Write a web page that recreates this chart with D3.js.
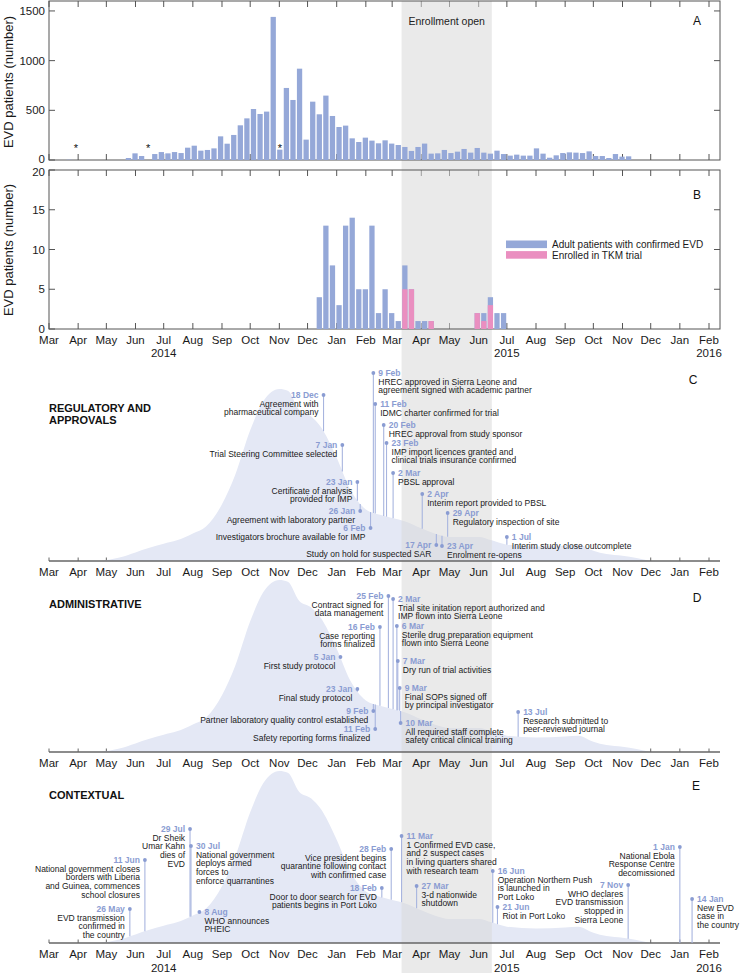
<!DOCTYPE html>
<html><head><meta charset="utf-8">
<script src="https://cdn.jsdelivr.net/npm/d3@7"></script>
<style>
body{margin:0;background:#fff}
svg{display:block}
text{font-family:"Liberation Sans",Arial,Helvetica,sans-serif}
</style>
</head><body>
<svg id="chart" width="740" height="973"></svg>
<script>
// ---------------- DATA ----------------
const weekStart = "2014-03-19";
const weeklyCases = [3,0,0,0,0,0,0,0,0,20,67,40,0,60,80,67,80,70,124,144,94,101,117,238,164,252,349,419,513,463,487,1440,104,725,604,919,205,587,460,648,443,332,346,218,181,225,195,168,198,165,151,131,91,131,165,64,67,101,70,84,111,74,121,74,64,94,60,44,54,44,44,117,64,23,47,70,77,74,70,87,40,40,20,60,34,37];
const starWeeks = [1,12,32];
const trialFirstWeek = 38;
const confirmedAdults = [4,13,8,3,13,14,5,5,13,2,5,2,1,8,5,1,1,1,0,0,0,0,0,0,2,2,4,2,2];
const enrolledTKM    = [0,0,0,0,0,0,0,0,0,0,0,0,0,5,5,0,0,1,0,0,0,0,0,0,2,1,3,0,0];
const yTicksA = [0,500,1000,1500];
const yTicksB = [0,5,10,15,20];
const enrollment = ["2015-03-11","2015-06-15"];
const legendLabels = ["Adult patients with confirmed EVD","Enrolled in TKM trial"];
const yearLabels = [["2014-07-01","2014"],["2015-07-01","2015"],["2016-02-01","2016"]];

const curveDates = ["2014-04-25","2014-05-15","2014-06-01","2014-06-15","2014-07-01","2014-07-15","2014-08-01","2014-08-15","2014-09-01","2014-09-15","2014-10-01","2014-10-15","2014-11-01","2014-11-10","2014-11-22","2014-12-05","2014-12-15","2015-01-01","2015-01-15","2015-02-01","2015-02-15","2015-03-01","2015-03-15","2015-04-01","2015-04-15","2015-05-01","2015-05-15","2015-06-01","2015-06-15","2015-07-01","2015-08-01","2015-09-01","2015-09-15","2015-10-01","2015-10-15","2015-11-01","2015-12-01"];
const curvePct = [0,2,5,7.5,10,12,16,20,33,50,76,93,100,99,88,84,78,60,42,30,27,25,23,19,16,14,14,14,12,9.5,8.5,9,9.5,6,4,3,0];

const regulatoryEvents = [
  {date:"2014-12-18", label:"18 Dec", text:["Agreement with","pharmaceutical company"]},
  {date:"2015-01-07", label:"7 Jan", text:["Trial Steering Committee selected"]},
  {date:"2015-01-23", label:"23 Jan", text:["Certificate of analysis","provided for IMP"]},
  {date:"2015-01-26", label:"26 Jan", text:["Agreement with laboratory partner"]},
  {date:"2015-02-06", label:"6 Feb", text:["Investigators brochure available for IMP"]},
  {date:"2015-02-09", label:"9 Feb", text:["HREC approved in Sierra Leone and","agreement signed with academic partner"]},
  {date:"2015-02-11", label:"11 Feb", text:["IDMC charter confirmed for trial"]},
  {date:"2015-02-20", label:"20 Feb", text:["HREC approval from study sponsor"]},
  {date:"2015-02-23", label:"23 Feb", text:["IMP import licences granted and","clinical trials insurance confirmed"]},
  {date:"2015-03-02", label:"2 Mar", text:["PBSL approval"]},
  {date:"2015-04-02", label:"2 Apr", text:["Interim report provided to PBSL"]},
  {date:"2015-04-29", label:"29 Apr", text:["Regulatory inspection of site"]},
  {date:"2015-04-17", label:"17 Apr", text:["Study on hold for suspected SAR"]},
  {date:"2015-04-23", label:"23 Apr", text:["Enrolment re-opens"]},
  {date:"2015-07-01", label:"1 Jul", text:["Interim study close outcomplete"]}
];
const adminEvents = [
  {date:"2015-02-25", label:"25 Feb", text:["Contract signed for","data management"]},
  {date:"2015-03-02", label:"2 Mar", text:["Trial site initation report authorized and","IMP flown into Sierra Leone"]},
  {date:"2015-02-16", label:"16 Feb", text:["Case reporting","forms finalized"]},
  {date:"2015-03-06", label:"6 Mar", text:["Sterile drug preparation equipment","flown into Sierra Leone"]},
  {date:"2015-01-05", label:"5 Jan", text:["First study protocol"]},
  {date:"2015-03-07", label:"7 Mar", text:["Dry run of trial activities"]},
  {date:"2015-01-23", label:"23 Jan", text:["Final study protocol"]},
  {date:"2015-03-09", label:"9 Mar", text:["Final SOPs signed off","by principal investigator"]},
  {date:"2015-02-09", label:"9 Feb", text:["Partner laboratory quality control established"]},
  {date:"2015-02-11", label:"11 Feb", text:["Safety reporting forms finalized"]},
  {date:"2015-03-10", label:"10 Mar", text:["All required staff complete","safety critical clinical training"]},
  {date:"2015-07-13", label:"13 Jul", text:["Research submitted to","peer-reviewed journal"]}
];
const contextEvents = [
  {date:"2014-05-26", label:"26 May", text:["EVD transmission","confirmed in","the country"]},
  {date:"2014-06-11", label:"11 Jun", text:["National government closes","borders with Liberia","and Guinea, commences","school closures"]},
  {date:"2014-07-29", label:"29 Jul", text:["Dr Sheik","Umar Kahn","dies of","EVD"]},
  {date:"2014-07-30", label:"30 Jul", text:["National government","deploys armed","forces to","enforce quarrantines"]},
  {date:"2014-08-08", label:"8 Aug", text:["WHO announces","PHEIC"]},
  {date:"2015-02-28", label:"28 Feb", text:["Vice president begins","quarantine following contact","with confirmed case"]},
  {date:"2015-02-18", label:"18 Feb", text:["Door to door search for EVD","patients begins in Port Loko"]},
  {date:"2015-03-11", label:"11 Mar", text:["1 Confirmed EVD case,","and 2 suspect cases","in living quarters shared","with research team"]},
  {date:"2015-03-27", label:"27 Mar", text:["3-d nationwide","shutdown"]},
  {date:"2015-06-16", label:"16 Jun", text:["Operation Northern Push","is launched in","Port Loko"]},
  {date:"2015-06-21", label:"21 Jun", text:["Riot in Port Loko"]},
  {date:"2015-11-07", label:"7 Nov", text:["WHO declares","EVD transmission","stopped in","Sierra Leone"]},
  {date:"2016-01-01", label:"1 Jan", text:["National Ebola","Response Centre","decomissioned"]},
  {date:"2016-01-14", label:"14 Jan", text:["New EVD","case in","the country"]}
];

// ---------------- LAYOUT (px above each timeline axis, label side) ----------------
const regulatoryLayout = [[166,"l"],[116,"l"],[79,"l"],[50,"l"],[33,"l"],[188,"r"],[157,"r"],[136,"r"],[118,"r"],[88,"r"],[67,"r"],[48,"r"],[16,"l"],[15,"r"],[24,"r"]];
const adminLayout = [[156,"l"],[153,"r"],[125,"l"],[126,"r"],[95,"l"],[91,"r"],[63,"l"],[64,"r"],[41,"l"],[23,"l"],[29,"r"],[40,"r"]];
const contextLayout = [[34,"l"],[83,"l"],[114,"l"],[97,"r"],[31,"r"],[94,"l"],[55,"l"],[107,"r"],[57,"r"],[72,"r"],[36,"r"],[58,"l"],[96,"l"],[44,"r"]];

// ---------------- STYLE ----------------
const C = {
  bar:"#95a8d8", pink:"#ea8fc0", area:"#e4e8f5", frame:"#555", band:"#d8d8d8",
  stem:"#a8b5df", date:"#8a9cd2", text:"#1a1a1a"
};

const parse = d3.utcParse("%Y-%m-%d");
const svg = d3.select("#chart");
const x = d3.scaleUtc().domain([parse("2014-03-01"), parse("2016-02-01")]).range([49, 709]);
const X0 = 49, X1 = 720;
const months = d3.utcMonth.range(parse("2014-03-01"), parse("2016-02-02"));
const fmtMon = d3.utcFormat("%b");

const weeks = weeklyCases.map((v,i)=>({d:d3.utcDay.offset(parse(weekStart), 7*i), v, i}));
const barX = d => x(d) + 0.65;
const barW = d => x(d3.utcDay.offset(d,7)) - x(d) - 1.3;

const layerTicks = svg.append("g");
const layerArea = svg.append("g");
const layerBand = svg.append("g");
const layerTop = svg.append("g");

// ---- Panel A & B frames ----
const yA = d3.scaleLinear().domain([0,1600]).range([160,1]);
const yB = d3.scaleLinear().domain([0,20]).range([329,170]);

function framePanel(y, ticks, top, bottom, nudge){
  months.forEach(m=>{
    const px = x(m);
    layerTicks.append("line").attr("x1",px).attr("x2",px).attr("y1",top).attr("y2",top+6)
      .attr("stroke",C.frame).attr("stroke-width",1);
    layerTicks.append("line").attr("x1",px).attr("x2",px).attr("y1",bottom).attr("y2",bottom-6)
      .attr("stroke",C.frame).attr("stroke-width",1);
  });
  ticks.forEach(t=>{
    const py = y(t);
    layerTicks.append("line").attr("x1",X0).attr("x2",X0+6).attr("y1",py).attr("y2",py).attr("stroke",C.frame);
    if(t>0 && y(t)>top+1) layerTicks.append("line").attr("x1",X1).attr("x2",X1-6).attr("y1",py).attr("y2",py).attr("stroke",C.frame);
    layerTop.append("text").attr("x",45).attr("y",py + (nudge[t]||0)).attr("dy","0.36em").attr("text-anchor","end")
      .attr("font-size",11.5).attr("fill",C.text).text(t);
  });
  layerTop.append("rect").attr("x",X0).attr("y",top).attr("width",X1-X0).attr("height",bottom-top)
    .attr("fill","none").attr("stroke",C.frame).attr("stroke-width",1);
}
framePanel(yA, yTicksA, 1, 160, {0:-1.6});
framePanel(yB, yTicksB, 170, 329, {20:1.6});

// Panel A bars
layerTop.append("g").selectAll("rect").data(weeks.filter(w=>w.v>0)).join("rect")
  .attr("x",w=>barX(w.d)).attr("width",w=>barW(w.d))
  .attr("y",w=>yA(w.v)).attr("height",w=>yA(0)-yA(w.v)).attr("fill",C.bar);
layerTop.append("g").selectAll("text").data(starWeeks).join("text")
  .attr("x",i=>barX(weeks[i].d)+barW(weeks[i].d)/2).attr("y",152)
  .attr("text-anchor","middle").attr("font-size",11).attr("fill","#111").text("*");

// Panel B bars
const trial = confirmedAdults.map((v,k)=>({d:weeks[trialFirstWeek+k].d, v, e:enrolledTKM[k]}));
layerTop.append("g").selectAll("rect").data(trial.filter(t=>t.v>0)).join("rect")
  .attr("x",t=>barX(t.d)).attr("width",t=>barW(t.d))
  .attr("y",t=>yB(t.v)).attr("height",t=>yB(0)-yB(t.v)).attr("fill",C.bar);
layerTop.append("g").selectAll("rect").data(trial.filter(t=>t.e>0)).join("rect")
  .attr("x",t=>barX(t.d)).attr("width",t=>barW(t.d))
  .attr("y",t=>yB(t.e)).attr("height",t=>yB(0)-yB(t.e)).attr("fill",C.pink);

function monthLabels(yc, years){
  months.forEach(m=>{
    layerTop.append("text").attr("x",x(m)).attr("y",yc).attr("dy","0.36em").attr("text-anchor","middle")
      .attr("font-size",11.5).attr("fill",C.text).text(fmtMon(m));
  });
  if(years){
    yearLabels.forEach(([d,l])=>{
      layerTop.append("text").attr("x",x(parse(d))).attr("y",years).attr("dy","0.36em").attr("text-anchor","middle")
        .attr("font-size",11.5).attr("fill",C.text).text(l);
    });
  }
}
monthLabels(339.5, 353);

[[82],[250]].forEach(([cy])=>{
  layerTop.append("text").attr("transform",`translate(12.5,${cy}) rotate(-90)`).attr("text-anchor","middle")
    .attr("font-size",13).attr("fill",C.text).text("EVD patients (number)");
});

// band
layerBand.append("rect").attr("x",x(parse(enrollment[0]))).attr("width",x(parse(enrollment[1]))-x(parse(enrollment[0])))
  .attr("y",1).attr("height",972).attr("fill",C.band).attr("opacity",0.55);
layerTop.append("text").attr("x",(x(parse(enrollment[0]))+x(parse(enrollment[1])))/2).attr("y",21.5).attr("dy","0.36em")
  .attr("text-anchor","middle").attr("font-size",10.5).attr("fill","#222").text("Enrollment open");

legendLabels.forEach((l,i)=>{
  layerTop.append("rect").attr("x",506).attr("y",240.5+i*10.6).attr("width",41).attr("height",7.6).attr("fill",i?C.pink:C.bar);
  layerTop.append("text").attr("x",552).attr("y",244.3+i*10.6).attr("dy","0.36em").attr("font-size",10).attr("fill",C.text).text(l);
});

[["A",697,21],["B",697,195],["C",693,380],["D",697,598],["E",696,786]].forEach(([t,px,py])=>{
  layerTop.append("text").attr("x",px).attr("y",py).attr("dy","0.36em").attr("text-anchor","middle")
    .attr("font-size",12).attr("fill","#111").text(t);
});

// ---- timelines C, D, E ----
const curve = curveDates.map((d,i)=>({d:parse(d), v:curvePct[i]}));
function timeline(axisY, events, layout, titleLines, years){
  const yc = d3.scaleLinear().domain([0,100]).range([axisY, axisY-172]);
  layerArea.append("path").datum(curve)
    .attr("d", d3.area().x(p=>x(p.d)).y0(axisY).y1(p=>yc(p.v)).curve(d3.curveMonotoneX))
    .attr("fill",C.area);
  const guide = layerArea.append("path").datum(curve)
    .attr("d", d3.line().x(p=>x(p.d)).y(p=>yc(p.v)).curve(d3.curveMonotoneX))
    .attr("fill","none").attr("stroke","none");
  const node = guide.node(), total = node.getTotalLength();
  const xmin = x(curve[0].d), xmax = x(curve[curve.length-1].d);
  function topAt(px){
    if(px<=xmin || px>=xmax) return axisY;
    let lo=0, hi=total;
    for(let k=0;k<40;k++){ const mid=(lo+hi)/2; if(node.getPointAtLength(mid).x<px) lo=mid; else hi=mid; }
    return node.getPointAtLength((lo+hi)/2).y;
  }
  months.forEach(m=>{
    layerTicks.append("line").attr("x1",x(m)).attr("x2",x(m)).attr("y1",axisY).attr("y2",axisY-3.5)
      .attr("stroke","#666").attr("stroke-width",1);
  });
  layerTop.append("line").attr("x1",X0).attr("x2",X1).attr("y1",axisY).attr("y2",axisY)
    .attr("stroke","#666").attr("stroke-width",1.4);
  monthLabels(axisY+11, years);
  titleLines.forEach((t,i)=>{
    layerTop.append("text").attr("x",49).attr("y",titleLines.y + i*12).attr("dy","0.36em")
      .attr("font-size",11).attr("font-weight","bold").attr("fill","#111").text(t);
  });
  const g = layerTop.append("g");
  events.forEach((e,i)=>{
    const [h, side] = layout[i];
    const cx = x(parse(e.date)), cy = axisY - h;
    g.append("line").attr("x1",cx).attr("x2",cx).attr("y1",cy).attr("y2",topAt(cx))
      .attr("stroke",C.stem).attr("stroke-width",1.1);
  });
  events.forEach((e,i)=>{
    const [h, side] = layout[i];
    const cx = x(parse(e.date)), cy = axisY - h;
    g.append("circle").attr("cx",cx).attr("cy",cy).attr("r",1.9).attr("fill",C.date);
    const left = side==="l";
    const tx = left ? cx-5 : cx+5;
    const anchor = left ? "end" : "start";
    g.append("text").attr("x",tx).attr("y",cy).attr("dy","0.36em").attr("text-anchor",anchor)
      .attr("font-size",8.5).attr("font-weight","bold").attr("fill",C.date).text(e.label);
    e.text.forEach((t,j)=>{
      g.append("text").attr("x",tx).attr("y",cy+8.7*(j+1)).attr("dy","0.36em").attr("text-anchor",anchor)
        .attr("font-size",8.5).attr("fill",C.text).text(t);
    });
  });
}
const t1 = ["REGULATORY AND","APPROVALS"]; t1.y = 408;
const t2 = ["ADMINISTRATIVE"]; t2.y = 604;
const t3 = ["CONTEXTUAL"]; t3.y = 795;
timeline(561, regulatoryEvents, regulatoryLayout, t1, null);
timeline(752, adminEvents, adminLayout, t2, null);
timeline(943, contextEvents, contextLayout, t3, 968);
</script>
</body></html>
